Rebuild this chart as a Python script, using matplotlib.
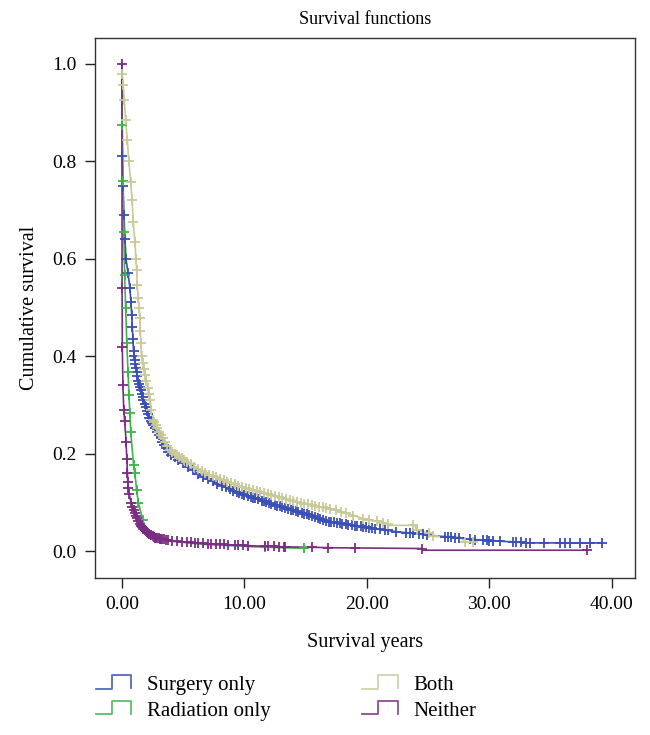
import numpy as np
import matplotlib
matplotlib.use("Agg")
import matplotlib.pyplot as plt
from matplotlib.legend_handler import HandlerBase
from matplotlib.lines import Line2D

plt.rcParams['font.family'] = ['Liberation Serif', 'DejaVu Serif']

# ---------------- data ----------------
labels = ["Surgery only", "Radiation only", "Both", "Neither"]
colors = ["#3a4fb8", "#3db54a", "#c9c99a", "#7b2d83"]

surgery_t = [0, 0.02, 0.08, 0.16, 0.25, 0.33, 0.5, 0.65, 0.8, 0.95, 1.3, 1.74, 2.3, 3.4, 3.9,
             6.6, 9.4, 12.1, 14.8, 17.0, 22.4, 25.1, 29.2, 33.3, 39.2]
surgery_s = [1.0, 0.81, 0.75, 0.69, 0.64, 0.6, 0.57, 0.54, 0.485, 0.41, 0.35, 0.31, 0.27, 0.22, 0.2,
             0.152, 0.121, 0.098, 0.078, 0.06, 0.04, 0.033, 0.023, 0.017, 0.017]
surgery_c = [0.02, 0.08, 0.16, 0.25, 0.33, 0.5, 0.65, 0.73, 0.8, 0.85, 0.9, 0.95, 1.0, 1.05, 1.1,
             1.15, 1.2, 1.25, 1.3, 1.38, 1.45, 1.52, 1.6, 1.68, 1.75, 1.85, 1.95, 2.05, 2.15, 2.25,
             2.35, 2.45, 2.55, 2.7, 2.85, 3.0, 3.15, 3.3, 3.45, 3.6, 3.8, 4.0, 4.3, 4.6, 5.0, 5.4,
             5.8, 6.2, 6.6, 7.0, 7.4, 7.8, 8.2, 8.5, 8.8, 9.1, 9.4, 9.6, 9.8, 10.0, 10.3, 10.5,
             10.7, 10.9, 11.1, 11.4, 11.6, 11.8, 12.0, 12.2, 12.5, 12.7, 12.9, 13.1, 13.3, 13.6,
             13.8, 14.0, 14.2, 14.4, 14.7, 14.9, 15.1, 15.3, 15.5, 15.8, 16.0, 16.2, 16.4, 16.7,
             16.9, 17.1, 17.3, 17.6, 17.8, 18.0, 18.3, 18.5, 18.8, 19.0, 19.2, 19.5, 19.7, 19.9,
             20.2, 20.4, 20.7, 21.1, 21.5, 21.7, 22.4, 23.2, 23.5, 23.8, 24.3, 24.6, 24.9, 26.4,
             26.6, 26.9, 27.2, 27.5, 28.4, 28.8, 29.5, 29.8, 30.0, 30.3, 30.9, 31.9, 32.2, 32.6,
             33.0, 33.3, 34.5, 35.8, 36.2, 36.6, 37.4, 38.2, 39.2]

radiation_t = [0, 0.03, 0.1, 0.15, 0.22, 0.3, 0.4, 0.5, 0.57, 0.65, 0.72, 0.8, 0.95, 1.06, 1.2,
               1.35, 1.7, 2.0, 2.4, 3.4, 6.6, 11.7, 14.9]
radiation_s = [1.0, 0.875, 0.76, 0.655, 0.567, 0.5, 0.427, 0.367, 0.32, 0.283, 0.244, 0.22, 0.177,
               0.16, 0.125, 0.098, 0.064, 0.043, 0.03, 0.022, 0.014, 0.008, 0.006]
radiation_c = [0.03, 0.1, 0.15, 0.22, 0.3, 0.4, 0.5, 0.57, 0.65, 0.72, 0.95, 1.06, 1.2, 1.35, 1.7,
               11.7, 14.9]

both_t = [0, 0.02, 0.1, 0.19, 0.3, 0.43, 0.57, 0.71, 0.84, 0.92, 1.06, 1.14, 1.2, 1.25, 1.33, 1.41,
          1.6, 2.3, 2.5, 3.9, 6.6, 9.4, 12.1, 14.8, 17.5, 19.7, 21.6, 21.8, 23.9, 24.1, 25.1, 25.5,
          27.6, 28.0, 28.8]
both_s = [1.0, 0.98, 0.957, 0.926, 0.885, 0.844, 0.8, 0.757, 0.72, 0.676, 0.635, 0.6, 0.577, 0.546,
          0.52, 0.5, 0.4, 0.31, 0.27, 0.207, 0.162, 0.135, 0.115, 0.098, 0.084, 0.067, 0.057, 0.053,
          0.053, 0.043, 0.037, 0.03, 0.03, 0.019, 0.019]
both_c = [0.02, 0.1, 0.19, 0.3, 0.43, 0.57, 0.71, 0.84, 0.92, 1.06, 1.14, 1.2, 1.25, 1.33, 1.41,
          1.45, 1.5, 1.55, 1.6, 1.7, 1.8, 1.9, 2.0, 2.1, 2.2, 2.3, 2.4, 2.5, 2.6, 2.75, 2.9, 3.05,
          3.2, 3.35, 3.5, 3.7, 3.9, 4.1, 4.3, 4.5, 4.7, 4.9, 5.1, 5.3, 5.6, 5.9, 6.2, 6.5, 6.8, 7.1,
          7.4, 7.7, 8.0, 8.3, 8.6, 8.9, 9.2, 9.5, 9.8, 10.1, 10.4, 10.7, 11.0, 11.3, 11.6, 11.9,
          12.2, 12.5, 12.8, 13.1, 13.4, 13.7, 14.0, 14.3, 14.6, 14.9, 15.2, 15.5, 15.8, 16.1, 16.4,
          16.7, 17.0, 17.5, 17.9, 18.3, 18.9, 19.7, 20.2, 20.8, 21.3, 21.7, 23.8, 24.1, 25.1, 25.4,
          28.0, 28.7]

neither_t = [0, 0.01, 0.03, 0.08, 0.15, 0.3, 0.4, 0.5, 0.75, 1.06, 1.5, 2.0, 2.7, 3.4, 4.5, 6.6,
             10.7, 13.3, 17.5, 24.5, 24.6, 38.0]
neither_s = [1.0, 0.54, 0.42, 0.34, 0.29, 0.24, 0.19, 0.13, 0.098, 0.078, 0.053, 0.04, 0.028, 0.024,
             0.02, 0.016, 0.011, 0.009, 0.007, 0.0055, 0.002, 0.002]
neither_c = [0.0, 0.01, 0.03, 0.08, 0.15, 0.22, 0.33, 0.4, 0.45, 0.48, 0.5, 0.6, 0.75, 0.85, 0.95,
             1.06, 1.15, 1.25, 1.35, 1.45, 1.55, 1.65, 1.75, 1.85, 1.95, 2.05, 2.15, 2.25, 2.4, 2.5,
             2.6, 2.7, 2.8, 2.9, 3.0, 3.1, 3.2, 3.3, 3.4, 3.6, 3.8, 4.1, 4.5, 4.9, 5.3, 5.6, 6.0,
             6.2, 6.6, 7.0, 7.3, 7.7, 8.0, 8.3, 8.7, 9.2, 9.5, 9.9, 10.3, 11.7, 11.9, 12.4, 12.8,
             13.2, 13.3, 15.5, 16.8, 19.0, 24.5, 38.0]

x_ticks = [0, 10, 20, 30, 40]
x_ticklabels = ["0.00", "10.00", "20.00", "30.00", "40.00"]
y_ticks = [0.0, 0.2, 0.4, 0.6, 0.8, 1.0]
y_ticklabels = ["0.0", "0.2", "0.4", "0.6", "0.8", "1.0"]

series = [
    (surgery_t, surgery_s, surgery_c),
    (radiation_t, radiation_s, radiation_c),
    (both_t, both_s, both_c),
    (neither_t, neither_s, neither_c),
]

# ---------------- figure ----------------
fig = plt.figure(figsize=(6.5, 7.35), dpi=100)
ax = fig.add_axes([95 / 650, 1 - 578 / 735, 540 / 650, 540 / 735])

for (t, s, c), col in zip(series, colors):
    ax.plot(t, s, color=col, lw=1.2, zorder=2)
    cy = np.interp(c, t, s)
    ax.plot(c, cy, linestyle='none', marker='+', ms=7.5, mew=1.3, color=col, zorder=3)

ax.set_xlim(-2.2, 41.9)
ax.set_ylim(-0.055, 1.053)
ax.set_xticks(x_ticks)
ax.set_xticklabels(x_ticklabels)
ax.set_yticks(y_ticks)
ax.set_yticklabels(y_ticklabels)
ax.tick_params(direction='out', length=7, width=1, labelsize=14, pad=6, color='#222222')
for sp in ax.spines.values():
    sp.set_color('#333333')
    sp.set_linewidth(1.0)

ax.set_title("Survival functions", fontsize=13, pad=10)
ax.set_xlabel("Survival years", fontsize=14.5, labelpad=14)
ax.set_ylabel("Cumulative survival", fontsize=14.5, labelpad=10)


class StepHandler(HandlerBase):
    def create_artists(self, legend, orig_handle, xdescent, ydescent, width, height, fontsize, trans):
        x0 = -xdescent
        y0 = -ydescent
        xs = [x0, x0 + 0.45 * width, x0 + 0.45 * width, x0 + width, x0 + width]
        ys = [y0 + 0.05 * height, y0 + 0.05 * height, y0 + 1.05 * height, y0 + 1.05 * height,
              y0 + 0.1 * height]
        ln = Line2D(xs, ys, color=orig_handle.get_color(), lw=1.3, alpha=0.85, transform=trans)
        return [ln]


handles = [Line2D([], [], color=c) for c in colors]
leg = fig.legend(handles, labels, ncol=2, loc='upper left', bbox_to_anchor=(77 / 650, 1 - 657 / 735),
                 frameon=False, fontsize=15, handlelength=1.7, handleheight=0.65,
                 handletextpad=0.75, columnspacing=4.4, labelspacing=0.3,
                 handler_map={Line2D: StepHandler()})

fig.savefig("out.png", dpi=100)
